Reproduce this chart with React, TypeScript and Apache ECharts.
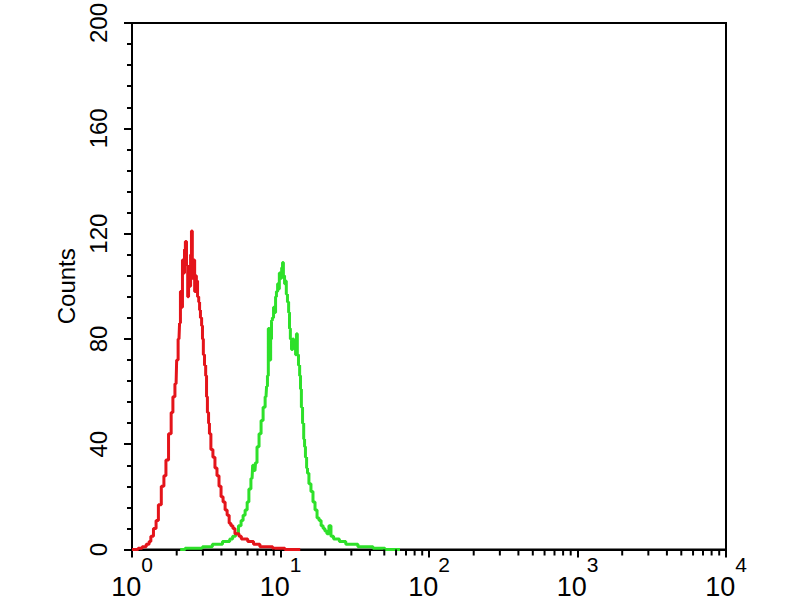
import React, { useEffect, useRef } from "react";
import * as echarts from "echarts";

// Histogram channels: 1024 channels over 4 decades (256 channels per decade)
const CHANNELS_PER_DECADE = 256;

const redChannels = [0, 7, 14, 21, 28, 31, 34, 40, 43, 48, 53, 57, 60, 66, 69, 72, 76, 78, 81, 83, 84, 86, 88, 90, 91, 93, 95, 97, 98, 100, 102, 103, 105, 107, 109, 110, 112, 114, 116, 117, 119, 121, 122, 124, 126, 128, 129, 131, 133, 134, 138, 141, 145, 148, 152, 155, 159, 162, 166, 169, 172, 176, 179, 183, 186, 191, 197, 202, 207, 212, 217, 224, 231, 238, 247, 255, 272, 290];
const redCounts = [0, 0, 0.5, 1, 2, 3, 5, 8, 11, 17, 24, 28, 34, 44, 52, 58, 63, 72, 80, 86, 98, 92, 110, 105, 114, 117, 108, 96, 104, 100, 112, 121, 103, 110, 98, 104, 102, 96, 94, 91, 88, 85, 80, 74, 70, 66, 58, 52, 48, 44, 38, 35, 31, 28, 24, 20, 18, 15, 13, 10, 9, 8, 6, 6, 5, 4, 4, 3, 3, 2, 2, 1, 1, 1, 0.5, 0.5, 0, 0];

const greenChannels = [83, 100, 117, 126, 134, 143, 152, 160, 166, 171, 176, 181, 186, 190, 193, 197, 200, 203, 207, 209, 212, 214, 217, 221, 224, 228, 231, 233, 234, 236, 238, 240, 241, 243, 245, 247, 248, 250, 252, 253, 255, 257, 259, 260, 262, 264, 265, 267, 269, 271, 272, 274, 276, 278, 279, 281, 283, 284, 286, 288, 290, 291, 293, 295, 297, 298, 300, 302, 303, 307, 310, 314, 317, 321, 324, 328, 331, 334, 338, 341, 345, 350, 355, 360, 365, 372, 379, 386, 393, 402, 410, 421, 431, 441, 462];
const greenCounts = [0, 0.5, 0.5, 1, 1, 2, 2, 3, 3, 4, 5, 6, 9, 11, 13, 15, 18, 23, 27, 32, 30, 33, 39, 44, 49, 54, 58, 62, 66, 84, 72, 80, 87, 88, 92, 90, 96, 98, 101, 99, 105, 103, 107, 109, 104, 101, 102, 97, 94, 90, 84, 80, 76, 80, 78, 77, 74, 82, 74, 70, 66, 61, 54, 48, 42, 39, 35, 31, 29, 25, 22, 18, 15, 12, 11, 9, 8, 7, 6, 9, 5, 4, 4, 3, 3, 2, 2, 2, 1, 1, 1, 0.5, 0.5, 0, 0];

const yTicks = [0, 40, 80, 120, 160, 200];
const xDecades = [1, 10, 100, 1000, 10000];
const xMinorTicks = [2, 3, 4, 5, 6, 7, 8, 9, 20, 30, 40, 50, 60, 70, 80, 90, 200, 300, 400, 500, 600, 700, 800, 900, 2000, 3000, 4000, 5000, 6000, 7000, 8000, 9000];

const toPoints = (ch: number[], counts: number[]) =>
  ch.map((c, i) => [Math.pow(10, c / CHANNELS_PER_DECADE), counts[i]]);

export default function App() {
  const ref = useRef<HTMLDivElement>(null);
  useEffect(() => {
    if (!ref.current) return;
    const chart = echarts.init(ref.current, null, { renderer: "svg" });
    const font = "Liberation Sans, Arial, Helvetica, sans-serif";
    chart.setOption({
      animation: false,
      backgroundColor: "#ffffff",
      grid: {
        left: 132,
        right: 74,
        top: 22,
        bottom: 50,
        show: true,
        borderColor: "#000",
        borderWidth: 2,
        backgroundColor: "transparent",
      },
      xAxis: {
        type: "log",
        logBase: 10,
        min: xDecades[0],
        max: xDecades[xDecades.length - 1],
        axisLine: { show: true, lineStyle: { color: "#000", width: 2 } },
        axisTick: { show: true, length: 8, inside: false, lineStyle: { color: "#000", width: 2 } },
        splitLine: { show: false },
        axisLabel: {
          margin: 6,
          fontFamily: font,
          formatter: (v: number) => `{b|10}{s|${Math.round(Math.log10(v))}}`,
          rich: {
            b: { fontSize: 27, height: 26, lineHeight: 44, verticalAlign: "bottom", color: "#000", fontFamily: font },
            s: { fontSize: 21, height: 18, lineHeight: 18, verticalAlign: "top", color: "#000", fontFamily: font },
          },
        },
      },
      yAxis: {
        type: "value",
        min: yTicks[0],
        max: yTicks[yTicks.length - 1],
        interval: 40,
        name: "Counts",
        nameLocation: "middle",
        nameGap: 54,
        nameRotate: 90,
        nameTextStyle: { fontSize: 24, color: "#000", fontFamily: font },
        axisLine: { show: true, lineStyle: { color: "#000", width: 2 } },
        axisTick: { show: true, length: 8, lineStyle: { color: "#000", width: 2 } },
        minorTick: { show: true, splitNumber: 5, length: 5, lineStyle: { color: "#000", width: 2 } },
        splitLine: { show: false },
        axisLabel: { rotate: 90, margin: 22, fontSize: 24, color: "#000", fontFamily: font },
      },
      series: [
        {
          type: "line",
          name: "green",
          data: toPoints(greenChannels, greenCounts),
          step: "middle",
          showSymbol: false,
          lineStyle: { color: "#2ee02a", width: 3 },
          z: 2,
        },
        {
          type: "line",
          name: "red",
          data: toPoints(redChannels, redCounts),
          step: "middle",
          showSymbol: false,
          lineStyle: { color: "#e4141a", width: 3 },
          z: 3,
        },
        {
          type: "custom",
          name: "minorTicks",
          silent: true,
          clip: false,
          data: xMinorTicks.map((v) => [v, 0]),
          encode: { x: 0, y: 1 },
          renderItem: (_params: any, api: any) => {
            const p = api.coord([api.value(0), 0]);
            return {
              type: "line",
              shape: { x1: p[0], y1: p[1], x2: p[0], y2: p[1] + 6 },
              style: { stroke: "#000", lineWidth: 2 },
            };
          },
          z: 5,
        },
      ],
    });
    return () => chart.dispose();
  }, []);
  return <div ref={ref} style={{ width: 800, height: 600, position: "absolute", left: 0, top: 0 }} />;
}
